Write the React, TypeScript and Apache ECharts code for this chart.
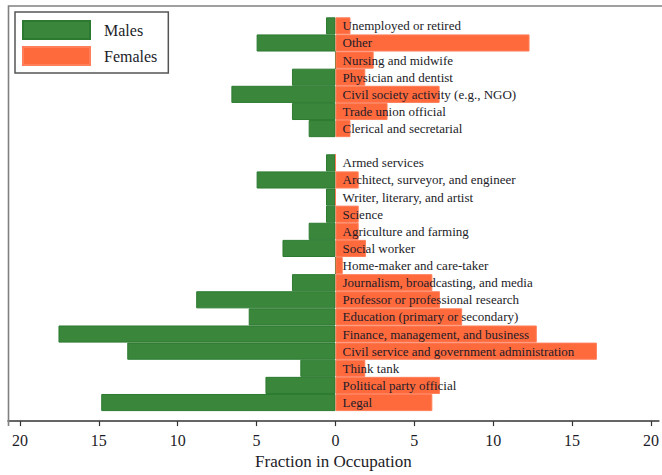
import React, { useEffect, useRef } from "react";
import * as echarts from "echarts";

const categories: string[] = [
  "Unemployed or retired",
  "Other",
  "Nursing and midwife",
  "Physician and dentist",
  "Civil society activity (e.g., NGO)",
  "Trade union official",
  "Clerical and secretarial",
  "",
  "Armed services",
  "Architect, surveyor, and engineer",
  "Writer, literary, and artist",
  "Science",
  "Agriculture and farming",
  "Social worker",
  "Home-maker and care-taker",
  "Journalism, broadcasting, and media",
  "Professor or professional research",
  "Education (primary or secondary)",
  "Finance, management, and business",
  "Civil service and government administration",
  "Think tank",
  "Political party official",
  "Legal",
];

const males: (number | null)[] = [
  0.6, 5.0, 0, 2.76, 6.6, 2.76, 1.7, null, 0.6, 5.0, 0.6, 0.6, 1.7, 3.36, 0,
  2.76, 8.83, 5.5, 17.56, 13.2, 2.23, 4.44, 14.85,
];

const females: (number | null)[] = [
  0.95, 12.3, 2.42, 1.89, 6.6, 3.3, 0.95, null, 0, 1.47, 0, 1.47, 1.47, 1.93,
  0.46, 6.14, 6.62, 8.03, 12.76, 16.57, 1.89, 6.62, 6.14,
];

const tickValues: number[] = [-20, -15, -10, -5, 0, 5, 10, 15, 20];

const SERIF = "Liberation Serif, Times New Roman, serif";
const TEXT = "#1c1c28";
const GRID_LEFT = 8;

export default function App() {
  const ref = useRef<HTMLDivElement>(null);

  useEffect(() => {
    if (!ref.current) return;
    const chart = echarts.init(ref.current, null, { renderer: "svg" });
    chart.setOption({
      animation: false,
      backgroundColor: "#ffffff",
      grid: { left: GRID_LEFT, right: 0, top: 17.3, bottom: 59, containLabel: false },
      legend: {
        orient: "vertical",
        left: 15,
        top: 12,
        padding: [8, 11, 7, 7],
        itemWidth: 67,
        itemHeight: 18,
        itemGap: 6,
        borderColor: "#555",
        borderWidth: 1.5,
        backgroundColor: "#ffffff",
        selectedMode: false,
        icon: "rect",
        textStyle: {
          fontFamily: SERIF,
          fontSize: 16,
          color: TEXT,
          padding: [0, 0, 0, 9],
        },
        data: ["Males", "Females"],
      },
      xAxis: {
        type: "value",
        min: -20.76,
        max: 20.5,
        offset: 10,
        splitLine: { show: false },
        axisLine: { show: true, lineStyle: { color: "#333", width: 1.5 } },
        axisTick: {
          show: true,
          length: 5,
          customValues: tickValues,
          lineStyle: { color: "#333", width: 1.2 },
        },
        axisLabel: {
          customValues: tickValues,
          formatter: (v: number) => String(Math.abs(v)),
          fontFamily: SERIF,
          fontSize: 16,
          color: TEXT,
          margin: 11,
        },
        name: "Fraction in Occupation",
        nameLocation: "middle",
        nameGap: 29,
        nameTextStyle: { fontFamily: SERIF, fontSize: 17, color: TEXT },
      },
      yAxis: {
        type: "category",
        inverse: true,
        data: categories,
        z: 10,
        axisLine: { show: false },
        axisTick: { show: false },
        splitLine: { show: false },
        axisLabel: {
          inside: true,
          interval: 0,
          margin: 7,
          fontFamily: SERIF,
          fontSize: 13,
          color: TEXT,
        },
      },
      graphic: [
        {
          type: "polyline",
          shape: { points: [[8.5, 426], [8.5, 6], [662, 6]] },
          style: { stroke: "#808080", lineWidth: 1.6, fill: "none" },
          z: 5,
        },
      ],
      series: [
        {
          name: "Males",
          type: "bar",
          data: males.map((v) => (v === null ? null : -v)),
          barCategoryGap: "0%",
          barGap: "-100%",
          itemStyle: { color: "#3a873c", borderColor: "#2c7a30", borderWidth: 1 },
        },
        {
          name: "Females",
          type: "bar",
          data: females,
          barCategoryGap: "0%",
          barGap: "-100%",
          itemStyle: { color: "#ff6a3d", borderColor: "#ff7f5a", borderWidth: 1 },
        },
      ],
    });
    // move the category axis (and its labels) to the x = 0 position
    const zeroX = chart.convertToPixel({ xAxisIndex: 0 }, 0) as number;
    chart.setOption({ yAxis: { offset: -(zeroX - GRID_LEFT) } });
    return () => chart.dispose();
  }, []);

  return (
    <div
      ref={ref}
      style={{ position: "fixed", left: 0, top: 0, width: 662, height: 475 }}
    />
  );
}
